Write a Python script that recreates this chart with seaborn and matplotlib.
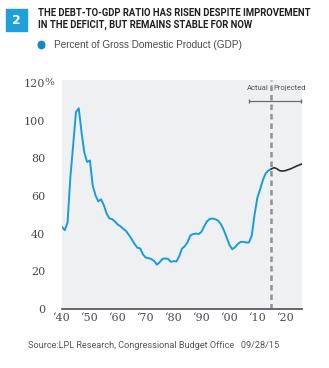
import numpy as np
import pandas as pd
import matplotlib
matplotlib.use("Agg")
import matplotlib.pyplot as plt
import matplotlib.patches as mpatches
import seaborn as sns

# Federal debt held by the public, percent of GDP
actual_years = list(range(1940, 2016))
actual_values = [
    43.5, 41.8, 46.0, 70.0, 87.0, 104.4, 106.5, 93.8, 83.0, 78.0,   # 1940s
    78.8, 65.6, 60.3, 57.1, 58.2, 55.0, 50.6, 48.0, 47.7, 46.4,     # 1950s
    44.8, 43.8, 42.5, 41.3, 39.2, 37.0, 34.5, 32.5, 32.2, 29.0,     # 1960s
    27.3, 27.0, 26.5, 25.5, 23.5, 24.8, 26.6, 26.8, 26.6, 25.0,     # 1970s
    25.4, 25.2, 28.0, 32.1, 33.3, 35.5, 39.0, 39.8, 40.0, 39.8,     # 1980s
    41.0, 44.0, 46.6, 47.8, 48.0, 47.6, 46.8, 44.8, 41.8, 38.0,     # 1990s
    34.0, 31.7, 32.8, 34.5, 35.6, 35.6, 35.3, 35.3, 39.0, 50.0,     # 2000s
    59.0, 63.5, 68.5, 72.0, 73.5, 74.3,                             # 2010-2015
]
projected_years = list(range(2015, 2027))
projected_values = [74.3, 75.0, 74.4, 73.4, 73.2, 73.4, 73.9, 74.4, 75.1, 75.8, 76.4, 77.0]

split_year = 2015
y_ticks = [0, 20, 40, 60, 80, 100, 120]
y_tick_labels = ["0", "20", "40", "60", "80", "100", "120"]
x_ticks = [1940, 1950, 1960, 1970, 1980, 1990, 2000, 2010, 2020]
x_tick_labels = ["\u201840", "\u201850", "\u201860", "\u201870", "\u201880",
                 "\u201890", "\u201800", "\u201810", "\u201820"]

title_lines = ["THE DEBT-TO-GDP RATIO HAS RISEN DESPITE IMPROVEMENT",
               "IN THE DEFICIT, BUT REMAINS STABLE FOR NOW"]
legend_label = "Percent of Gross Domestic Product (GDP)"
source_note = "Source:LPL Research, Congressional Budget Office   09/28/15"

BLUE = "#1a9cdc"
DARK = "#2b2f36"
PANEL = "#eff0f2"
TEXT = "#4a4a4a"

sns.set_theme(style="white")
plt.rcParams["font.family"] = ["DejaVu Sans"]
narrow = ["Roboto", "DejaVu Sans"]
serif = ["DejaVu Serif"]

W, H = 329, 368
fig = plt.figure(figsize=(W / 100, H / 100), dpi=100)
fig.patch.set_facecolor("white")


def fx(px):
    return px / W


def fy(py):
    return 1 - py / H


ax = fig.add_axes([fx(62), fy(309), fx(302) - fx(62), fy(80) - fy(309)])
ax.set_facecolor(PANEL)

actual_df = pd.DataFrame({"year": actual_years, "value": actual_values})
proj_df = pd.DataFrame({"year": projected_years, "value": projected_values})

sns.lineplot(data=actual_df, x="year", y="value", ax=ax, color=BLUE, lw=1.4)
sns.lineplot(data=proj_df, x="year", y="value", ax=ax, color=DARK, lw=1.2)

ax.axvline(split_year, color="#8f9196", lw=1.8, ls=(0, (2.2, 1.6)), zorder=1)

ax.set_xlim(1940, 2026)
ax.set_ylim(0, 121.5)
ax.set_xlabel("")
ax.set_ylabel("")

for side in ["top", "right", "left"]:
    ax.spines[side].set_visible(False)
ax.spines["bottom"].set_color("#5a5c60")
ax.spines["bottom"].set_linewidth(1.3)

ax.set_yticks(y_ticks)
ax.set_yticklabels(y_tick_labels, fontfamily=serif, fontsize=8, color=TEXT)
ax.set_xticks(x_ticks)
ax.set_xticklabels(x_tick_labels, fontfamily=serif, fontsize=8, color=TEXT)
ax.tick_params(axis="y", length=0, pad=12)
ax.tick_params(axis="x", length=0, pad=3)

# percent sign on the top tick
ax.text(-0.075, 120, "%", transform=ax.get_yaxis_transform(), ha="left", va="center",
        fontfamily=serif, fontsize=7.5, color=TEXT)

# Actual / Projected marker
ax.text(split_year - 0.9, 117.0, "Actual", ha="right", va="center",
        fontfamily=narrow, fontsize=5.5, color="#555555")
ax.text(split_year + 0.9, 117.0, "Projected", ha="left", va="center",
        fontfamily=narrow, fontsize=5.5, color="#555555")
ax.plot([2007, 2025.8], [110.5, 110.5], color="#6a6c70", lw=0.9,
        marker="|", markersize=3, markevery=[0, 1])

# header: number badge, title, legend
fig.patches.append(mpatches.Rectangle((fx(6), fy(31)), fx(27) - fx(6), fy(9) - fy(31),
                                      transform=fig.transFigure, color="#1fa0dc"))
fig.text(fx(16.5), fy(20), "2", ha="center", va="center", color="white",
         fontsize=9, fontweight="bold")
fig.text(fx(38), fy(13.5), title_lines[0], ha="left", va="center", color="#1f1f1f",
         fontsize=6.85, fontweight="bold", fontfamily=narrow)
fig.text(fx(38), fy(25), title_lines[1], ha="left", va="center", color="#1f1f1f",
         fontsize=6.85, fontweight="bold", fontfamily=narrow)

fig.patches.append(mpatches.Circle((fx(41.5), fy(45)), 3.3 / W, transform=fig.transFigure,
                                   color="#1784c4"))
fig.text(fx(54), fy(45), legend_label, ha="left", va="center", color=TEXT,
         fontsize=7.2, fontfamily=["Liberation Sans", "DejaVu Sans"])

fig.text(fx(28), fy(346), source_note, ha="left", va="center", color="#555555",
         fontsize=6.6, fontfamily=narrow)

fig.savefig("out.png", dpi=100, facecolor="white")
